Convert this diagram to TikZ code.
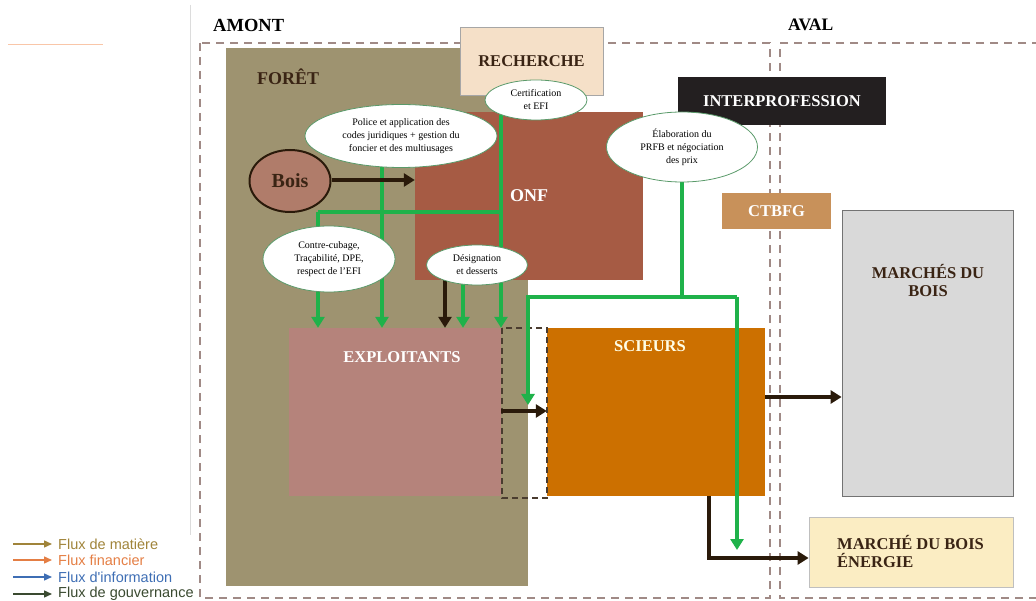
\documentclass[tikz,border=0pt]{standalone}
\usepackage{fontspec}
\setmainfont{Liberation Serif}
\newfontfamily\legendfont{Liberation Sans}
\usetikzlibrary{arrows.meta,shapes.geometric}

\definecolor{bordure}{HTML}{A08A86}
\definecolor{foretcol}{HTML}{9E9370}
\definecolor{onfcol}{HTML}{A65B44}
\definecolor{exploitcol}{HTML}{B5837B}
\definecolor{scieurcol}{HTML}{CC7000}
\definecolor{recherchecol}{HTML}{F5E0C8}
\definecolor{interprocol}{HTML}{231F20}
\definecolor{ctbfgcol}{HTML}{C8915A}
\definecolor{marchecol}{HTML}{D9D9D9}
\definecolor{energiecol}{HTML}{FBEDC3}
\definecolor{boiscol}{HTML}{B07C6A}
\definecolor{vert}{HTML}{1FB24A}
\definecolor{fonce}{HTML}{2A1A0A}
\definecolor{textefonce}{HTML}{3A2414}
\definecolor{bulleline}{HTML}{5A9A6A}
\definecolor{legmatiere}{HTML}{A0843A}
\definecolor{legfinancier}{HTML}{E47E44}
\definecolor{leginformation}{HTML}{3E6EB4}
\definecolor{leggouvernance}{HTML}{3A4A30}

\tikzset{
  zone/.style={draw=bordure, line width=2pt, dash pattern=on 8pt off 6pt},
  box/.style={rectangle, inner sep=0pt},
  titre/.style={font=\fontsize{16.5}{18}\selectfont\bfseries, inner sep=0pt},
  bulle/.style={ellipse, draw=bulleline, line width=0.8pt, fill=white, inner sep=0pt,
    align=center, font=\fontsize{10}{13}\selectfont},
  garrow/.style={draw=vert, line width=4.2pt, -{Triangle[length=11pt,width=13pt]}},
  gline/.style={draw=vert, line width=4.2pt},
  darrow/.style={draw=fonce, line width=4pt, -{Triangle[length=11pt,width=13pt]}},
  legende/.style={font=\legendfont\fontsize{14.5}{16}\selectfont, inner sep=0pt},
  legfleche/.style={line width=1.4pt, -{Triangle[length=8pt,width=7pt]}}
}

\begin{document}
\begin{tikzpicture}[x=1pt,y=-1pt]
\useasboundingbox (0,0) rectangle (1036,601);

% traits isolés
\draw[color={rgb,255:red,249;green,198;blue,168}, line width=1pt] (8,45) -- (103,45);
\draw[color={rgb,255:red,220;green,220;blue,220}, line width=1pt] (190,5) -- (190,535);

% zones amont / aval
\draw[zone] (200,43) rectangle (770,598);
\draw[zone] (1040,43) -- (780,43) -- (780,598) -- (1040,598);
\node[font=\fontsize{18.5}{20}\selectfont\bfseries, anchor=west, inner sep=0pt] (amont) at (213,25) {AMONT};
\node[font=\fontsize{17.5}{20}\selectfont\bfseries, anchor=west, inner sep=0pt] (aval) at (788,25) {AVAL};

% blocs
\node[box, fill=foretcol, minimum width=302pt, minimum height=538pt] (foret) at (377,317) {};
\node[titre, font=\fontsize{18}{20}\selectfont\bfseries, text=textefonce, anchor=west] (foretlbl) at (257,77) {FORÊT};
\node[box, fill=recherchecol, draw=black!35, line width=0.6pt, minimum width=143pt, minimum height=68pt] (recherche) at (531.5,61) {};
\node[titre, text=textefonce] (recherchelbl) at (recherche) {RECHERCHE};
\node[box, fill=onfcol, minimum width=228pt, minimum height=168pt] (onf) at (529,196) {};
\node[titre, font=\fontsize{18}{20}\selectfont\bfseries, text=white] (onflbl) at (529,196) {ONF};
\node[box, fill=interprocol, minimum width=208pt, minimum height=48pt] (interpro) at (782,101) {};
\node[titre, text=white] (interprolbl) at (interpro) {INTERPROFESSION};
\node[box, fill=ctbfgcol, minimum width=109pt, minimum height=36pt] (ctbfg) at (776.5,211) {};
\node[titre, text=white] (ctbfglbl) at (ctbfg) {CTBFG};
\node[box, fill=marchecol, draw=black!55, line width=0.8pt, minimum width=171pt, minimum height=286pt] (marches) at (927.5,353) {};
\node[titre, text=textefonce, align=center] (marcheslbl) at (928,281) {MARCHÉS DU\\BOIS};
\node[box, fill=energiecol, draw=black!25, line width=0.8pt, minimum width=204pt, minimum height=70pt] (energie) at (911,552) {};
\node[titre, text=textefonce, align=left, anchor=west] (energielbl) at (837,552) {MARCHÉ DU BOIS\\ÉNERGIE};
\node[box, fill=exploitcol, minimum width=212pt, minimum height=168pt] (exploit) at (395,412) {};
\node[titre, text=white] (exploitlbl) at (402,357) {EXPLOITANTS};
\node[box, fill=scieurcol, minimum width=218pt, minimum height=168pt] (scieur) at (656,412) {};
\node[titre, text=white!90!yellow] (scieurlbl) at (650,346) {SCIEURS};
\draw[draw=fonce!85, line width=1.8pt, dash pattern=on 6pt off 4pt] (502,328) rectangle (547,498);

% flux de gouvernance (vert)
\coordinate (certifbas) at (501,115);
\coordinate (jonction) at (501,212);
\coordinate (coinvert) at (318,212);
\draw[garrow] (certifbas) -- (certifbas |- exploit.north);
\draw[gline] (jonction) -- (coinvert);
\draw[garrow] (coinvert) -- (coinvert |- exploit.north);
\coordinate (policebas) at (382,160);
\draw[garrow] (policebas) -- (policebas |- exploit.north);
\coordinate (designbas) at (463,280);
\draw[garrow] (designbas) -- (designbas |- exploit.north);
\coordinate (elabobas) at (682,175);
\coordinate (elabomil) at (682,297);
\coordinate (elabogauche) at (528,297);
\coordinate (elabodroite) at (737,297);
\draw[gline] (elabobas) -- (elabomil);
\draw[garrow] (elabodroite) -- (elabogauche) -- (528,405);
\draw[garrow] (elabodroite) -- (737,550);

% flux de matière (foncé)
\node[ellipse, draw=fonce, line width=2pt, fill=boiscol, minimum width=81pt, minimum height=62pt, inner sep=0pt,
  font=\fontsize{20}{22}\selectfont\bfseries, text=textefonce] (bois) at (290,181) {Bois};
\draw[darrow] (bois.east |- 0,180) -- (onf.west |- 0,180);
\coordinate (onfbas) at (445,280);
\draw[darrow] (onfbas) -- (onfbas |- exploit.north);
\draw[darrow] (exploit.east |- 0,411) -- (scieur.west |- 0,411);
\draw[darrow] (scieur.east |- 0,397) -- (marches.west |- 0,397);
\coordinate (scieurbas) at (709,496);
\draw[darrow] (scieurbas) -- (709,558) -- (energie.west |- 0,558);

% bulles
\node[bulle, minimum width=192pt, minimum height=63pt] (police) at (401,136)
  {Police et application des\\codes juridiques + gestion du\\foncier et des multiusages};
\node[bulle, minimum width=102pt, minimum height=40pt] (certif) at (536,100)
  {Certification\\et EFI};
\node[bulle, minimum width=151pt, minimum height=70pt] (elabo) at (682,147)
  {Élaboration du\\PRFB et négociation\\des prix};
\node[bulle, minimum width=132pt, minimum height=66pt] (cubage) at (329,259)
  {Contre-cubage,\\Traçabilité, DPE,\\respect de l'EFI};
\node[bulle, minimum width=101pt, minimum height=40pt] (design) at (477,265)
  {Désignation\\et desserts};

% légende
\foreach \i/\ly/\lc/\lt in {1/544/matiere/{Flux de matière},2/560/financier/{Flux financier},
    3/577/information/{Flux d'information},4/594/gouvernance/{Flux de gouvernance}}{
  \node[legende, text=leg\lc, anchor=west] (legt\i) at (58,\ly) {\lt};
  \coordinate (lega\i) at (13,\ly);
  \draw[legfleche, draw=leg\lc, fill=leg\lc, shorten >=6pt] (lega\i) -- (legt\i.west);
}
\end{tikzpicture}
\end{document}
